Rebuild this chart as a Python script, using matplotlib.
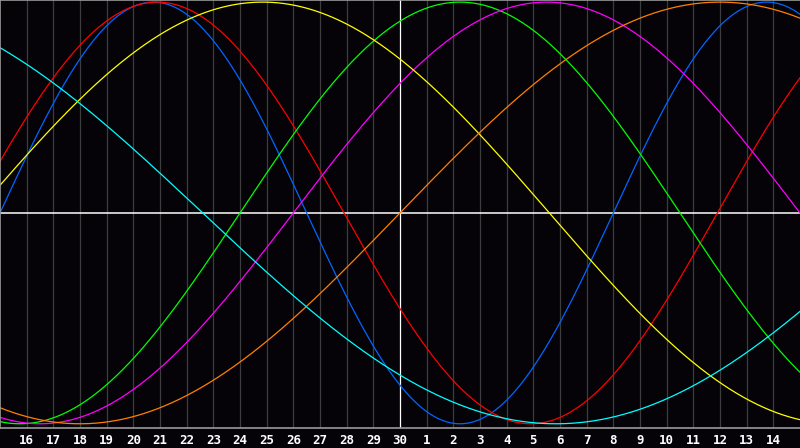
import numpy as np
import matplotlib
matplotlib.use("Agg")
import matplotlib.pyplot as plt

# day labels along the bottom (today = 30, in the middle)
days = list(range(16, 31)) + list(range(1, 15))

# biorhythm cycles: period (days), day index where the curve crosses zero going up
periods = [23, 28, 33, 38, 43, 48, 53]
zero_up = [0.0, -1.1, 9.0, 11.0, -0.9, 15.0, -18.9]
colors = ['#0066ff', '#ff0000', '#00ff00', '#ff00ff', '#ffff00', '#ff8000', '#00ffff']

bg = '#050308'
W, H = 800, 448
plot_h = 428

fig = plt.figure(figsize=(W/100, H/100), dpi=100, facecolor=bg)
ax = fig.add_axes([0, 1 - plot_h/H, 1, plot_h/H])
ax.set_facecolor(bg)

n = len(days) + 1
ax.set_xlim(0, n)
ax.set_ylim(-1.02, 1.01)

    # grid
for i in range(1, n):
    c = 'white' if days[i-1] == 30 else '#3c3c3c'
    ax.axvline(i, color=c, lw=0.9, zorder=1)
ax.axhline(0, color='white', lw=1.1, zorder=1)

    # curves
t = np.linspace(0, n, 2000)
for P, z, c in zip(periods, zero_up, colors):
    ax.plot(t, np.sin(2*np.pi*(t - z)/P), color=c, lw=0.9, zorder=2)

for s in ax.spines.values():
    s.set_color('#9a9a9a')
    s.set_linewidth(1.2)
ax.spines['right'].set_visible(False)

ax.set_xticks(range(1, n))
ax.set_xticklabels([str(d) for d in days], color='white', fontsize=9,
                   fontweight='bold', family='DejaVu Sans Mono')
ax.tick_params(axis='x', length=0, pad=4)
ax.set_yticks([])

fig.savefig('out.png', dpi=100, facecolor=bg)
